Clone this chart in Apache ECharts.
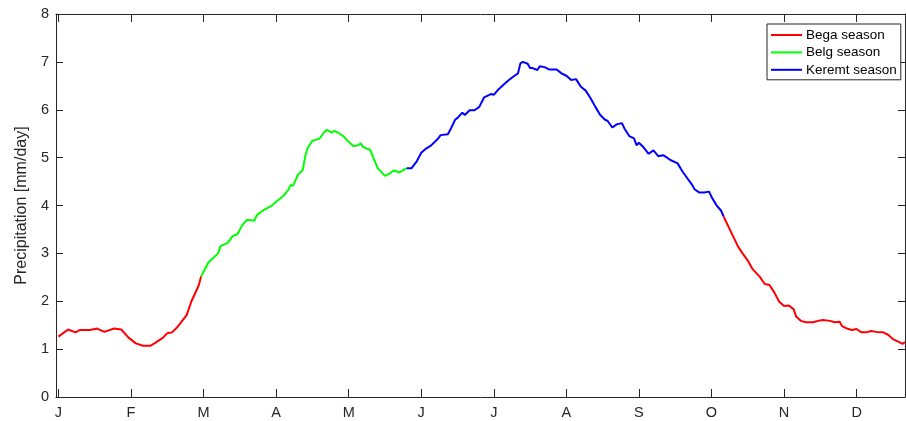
<!DOCTYPE html>
<html>
<head>
<meta charset="utf-8">
<script src="https://cdn.jsdelivr.net/npm/echarts@6/dist/echarts.min.js"></script>
<style>
  html, body { margin: 0; padding: 0; background: #ffffff; }
  #chart { width: 906px; height: 421px; }
</style>
</head>
<body>
<div id="chart"></div>
<script>
// ---- Data ----
const monthLabels = ['J', 'F', 'M', 'A', 'M', 'J', 'J', 'A', 'S', 'O', 'N', 'D'];
const monthTickDays = [1, 31, 61, 91, 121, 151, 181, 211, 241, 271, 301, 331];
const yTicks = [0, 1, 2, 3, 4, 5, 6, 7, 8];

const begaEarlyDays = [1, 5, 8, 10, 14, 17, 20, 24, 27, 30, 33, 36, 38, 39, 41, 44, 46, 48, 50, 52, 54, 56, 58, 59, 60];
const begaEarlyVals = [1.26, 1.41, 1.35, 1.40, 1.40, 1.43, 1.36, 1.43, 1.41, 1.24, 1.12, 1.07, 1.07, 1.07, 1.13, 1.23, 1.33, 1.35, 1.45, 1.58, 1.71, 2.00, 2.22, 2.33, 2.52];

const belgDays = [60, 63, 67, 68, 71, 73, 75, 77, 79, 82, 83, 86, 89, 91, 94, 96, 97, 98, 100, 102, 103, 104, 106, 109, 111, 112, 114, 115, 117, 119, 121, 123, 125, 126, 127, 130, 131, 133, 136, 138, 139, 140, 142, 145];
const belgVals = [2.52, 2.81, 3.00, 3.15, 3.22, 3.36, 3.40, 3.59, 3.70, 3.68, 3.80, 3.91, 3.99, 4.08, 4.20, 4.32, 4.43, 4.41, 4.64, 4.74, 5.02, 5.20, 5.35, 5.40, 5.54, 5.58, 5.52, 5.56, 5.51, 5.44, 5.33, 5.24, 5.26, 5.30, 5.22, 5.16, 5.02, 4.78, 4.62, 4.67, 4.71, 4.73, 4.69, 4.78];

const keremtDays = [145, 147, 149, 151, 153, 155, 158, 159, 162, 163, 165, 166, 168, 169, 171, 173, 175, 177, 180, 181, 183, 185, 187, 189, 191, 192, 193, 195, 196, 197, 199, 200, 202, 204, 207, 209, 211, 213, 215, 217, 219, 221, 223, 225, 227, 228, 230, 232, 234, 235, 237, 239, 240, 241, 243, 245, 247, 249, 251, 252, 254, 257, 259, 261, 263, 264, 266, 268, 270, 271, 273, 275, 276];
const keremtVals = [4.78, 4.78, 4.91, 5.10, 5.19, 5.25, 5.40, 5.47, 5.49, 5.58, 5.79, 5.83, 5.94, 5.89, 5.99, 5.99, 6.06, 6.26, 6.33, 6.31, 6.43, 6.52, 6.61, 6.69, 6.76, 6.97, 7.00, 6.96, 6.87, 6.87, 6.83, 6.91, 6.89, 6.84, 6.84, 6.76, 6.71, 6.62, 6.64, 6.48, 6.40, 6.24, 6.06, 5.89, 5.79, 5.77, 5.63, 5.70, 5.72, 5.61, 5.45, 5.40, 5.26, 5.31, 5.21, 5.08, 5.15, 5.03, 5.05, 5.02, 4.95, 4.88, 4.71, 4.57, 4.43, 4.34, 4.27, 4.27, 4.29, 4.18, 4.01, 3.89, 3.77];

const begaLateDays = [276, 278, 280, 282, 284, 286, 288, 291, 293, 295, 297, 299, 301, 303, 305, 306, 308, 310, 313, 315, 317, 320, 322, 324, 325, 327, 329, 331, 333, 335, 337, 339, 342, 344, 346, 348, 350, 351];
const begaLateVals = [3.77, 3.56, 3.35, 3.14, 2.99, 2.85, 2.67, 2.51, 2.36, 2.34, 2.18, 1.99, 1.90, 1.91, 1.83, 1.68, 1.59, 1.56, 1.56, 1.59, 1.61, 1.59, 1.56, 1.57, 1.48, 1.43, 1.40, 1.42, 1.35, 1.35, 1.38, 1.36, 1.35, 1.30, 1.21, 1.16, 1.11, 1.15];

const seriesNames = ['Bega season', 'Belg season', 'Keremt season'];
const seriesColors = ['#ff0000', '#00ff00', '#0000ff'];

// ---- Chart ----
const pairs = (xs, ys) => xs.map((x, i) => [x, ys[i]]);
const FONT = '"Liberation Sans", Arial, Helvetica, sans-serif';
const AXIS_COLOR = '#262626';
const X_MIN = 0, X_MAX = 351;

const chart = echarts.init(document.getElementById('chart'), null, { renderer: 'canvas' });

function lineSeries(name, color, data) {
  return {
    type: 'line', name: name, data: data,
    xAxisIndex: 0, yAxisIndex: 0,
    showSymbol: false, symbol: 'none',
    lineStyle: { color: color, width: 2 },
    itemStyle: { color: color },
    animation: false,
    clip: true
  };
}

const baseX = {
  type: 'value', min: X_MIN, max: X_MAX,
  axisLine: { show: true, onZero: false, lineStyle: { color: AXIS_COLOR, width: 1 } },
  splitLine: { show: false }
};
const baseY = {
  type: 'value', min: 0, max: 8, interval: 1,
  axisLine: { show: true, onZero: false, lineStyle: { color: AXIS_COLOR, width: 1 } },
  axisTick: { show: true, inside: true, length: 7, lineStyle: { color: AXIS_COLOR } },
  splitLine: { show: false }
};

chart.setOption({
  backgroundColor: '#ffffff',
  animation: false,
  textStyle: { fontFamily: FONT },
  grid: { left: 56, top: 14, width: 849, height: 383, containLabel: false },
  legend: {
    orient: 'vertical',
    left: 767, top: 24,
    width: 133,
    padding: [4, 4, 3, 4],
    itemGap: 3.4,
    icon: 'rect',
    itemWidth: 31, itemHeight: 2,
    backgroundColor: '#ffffff',
    borderColor: AXIS_COLOR, borderWidth: 1,
    data: seriesNames,
    textStyle: { fontFamily: FONT, fontSize: 13.5, lineHeight: 14, color: '#000000', padding: [0, 0, 0, -1] }
  },
  xAxis: [
    Object.assign({}, baseX, {
      position: 'bottom',
      axisTick: { show: true, inside: true, length: 8, lineStyle: { color: AXIS_COLOR }, customValues: monthTickDays },
      axisLabel: {
        show: true, margin: 8, color: AXIS_COLOR, fontSize: 14.5, fontFamily: FONT,
        customValues: monthTickDays,
        formatter: (v) => { const i = monthTickDays.indexOf(Math.round(v)); return i >= 0 ? monthLabels[i] : ''; }
      }
    }),
    Object.assign({}, baseX, {
      position: 'top',
      axisTick: { show: true, inside: true, length: 8, lineStyle: { color: AXIS_COLOR }, customValues: monthTickDays },
      axisLabel: { show: false }
    })
  ],
  yAxis: [
    Object.assign({}, baseY, {
      position: 'left',
      name: 'Precipitation [mm/day]',
      nameLocation: 'middle',
      nameGap: 25,
      nameRotate: 90,
      nameTextStyle: { color: AXIS_COLOR, fontSize: 16, fontFamily: FONT },
      axisLabel: {
        show: true, margin: 7, color: AXIS_COLOR, fontSize: 14.5, fontFamily: FONT,
        customValues: yTicks
      }
    }),
    Object.assign({}, baseY, {
      position: 'right',
      axisLabel: { show: false }
    })
  ],
  series: [
    lineSeries(seriesNames[0], seriesColors[0], pairs(begaEarlyDays, begaEarlyVals)),
    lineSeries(seriesNames[1], seriesColors[1], pairs(belgDays, belgVals)),
    lineSeries(seriesNames[2], seriesColors[2], pairs(keremtDays, keremtVals)),
    lineSeries(seriesNames[0], seriesColors[0], pairs(begaLateDays, begaLateVals))
  ]
});
</script>
</body>
</html>
